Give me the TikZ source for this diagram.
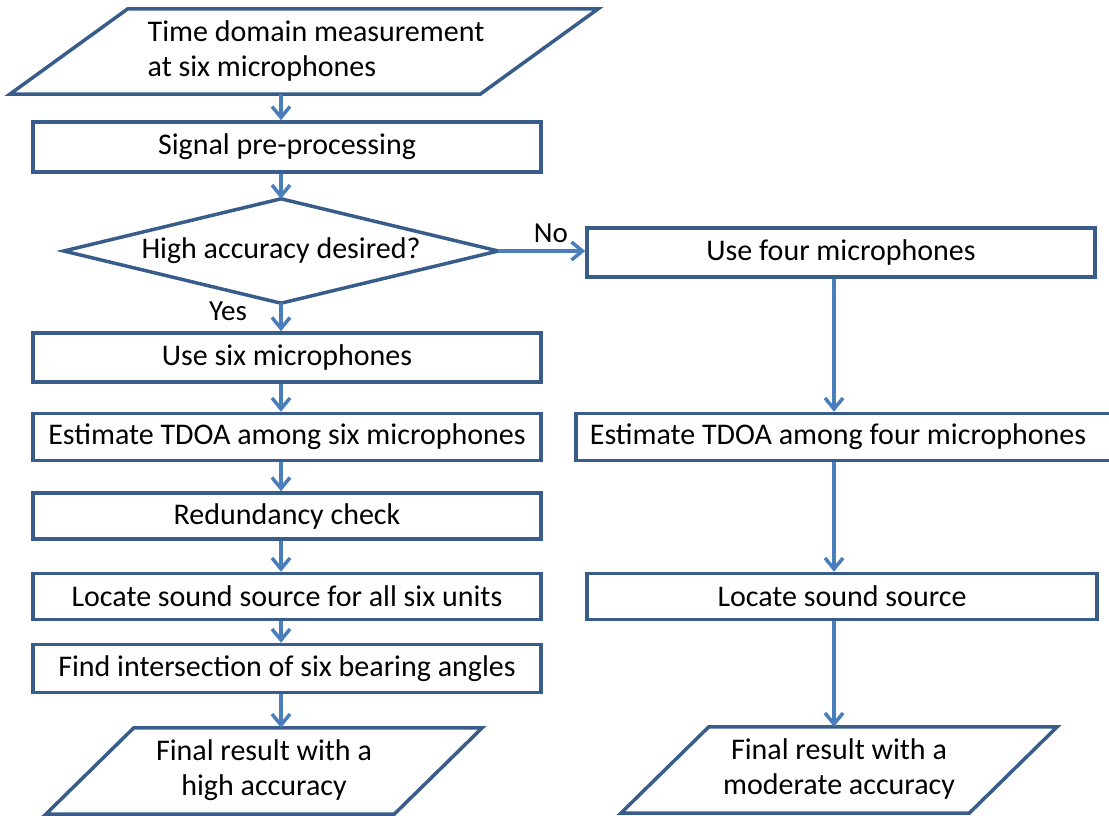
\documentclass[tikz,border=0pt]{standalone}
\usepackage{fontspec}
\setmainfont{Carlito}
\usetikzlibrary{arrows.meta,calc}
\definecolor{boxline}{RGB}{56,93,138}
\definecolor{flow}{RGB}{74,126,187}

\begin{document}
\begin{tikzpicture}[x=1pt,y=-1pt,
  every node/.style={font=\fontsize{30}{36}\selectfont, text=black, inner sep=0pt},
  procbox/.style={draw=boxline, line width=3.5pt, fill=white, minimum width=508pt},
  shapeline/.style={draw=boxline, line width=3.5pt, line join=miter},
  flowarrow/.style={draw=flow, line width=3.5pt,
    -{Straight Barb[length=11pt,width=18pt]}},
  lbl/.style={font=\fontsize{29}{34}\selectfont}]

\useasboundingbox (0,0) rectangle (1109,816);

% connector columns
\coordinate (lcol) at (281,0);
\coordinate (rcol) at (834,0);

% input: measurement
\node[minimum width=588pt, minimum height=85pt] (meas) at (304,51.5)
  {\hspace*{24pt}\begin{tabular}{@{}l@{}}Time domain measurement\\[-1pt]at six microphones\end{tabular}};
\draw[shapeline] ($(meas.north west)+(118,0)$) -- (meas.north east)
  -- ($(meas.south east)-(118,0)$) -- (meas.south west) -- cycle;

% left column
\node[procbox, minimum height=50pt] (sig) at (287,147) {Signal pre-processing};

\node[minimum width=434pt, minimum height=104pt] (dec) at (281,251) {High accuracy desired?};
\draw[shapeline] (dec.north) -- (dec.east) -- (dec.south) -- (dec.west) -- cycle;

\node[procbox, minimum height=49pt] (six) at (287,357.5) {Use six microphones};
\node[procbox, minimum height=47pt] (tdoa6) at (287,437) {Estimate TDOA among six microphones};
\node[procbox, minimum height=46pt] (red) at (287,516) {Redundancy check};
\node[procbox, minimum height=46pt] (loc6) at (287,596.5) {Locate sound source for all six units};
\node[procbox, minimum height=48pt] (find) at (287,668.5) {Find intersection of six bearing angles};

\node[minimum width=436pt, minimum height=86pt] (fin6) at (264,771)
  {\begin{tabular}{@{}c@{}}Final result with a\\[-1pt]high accuracy\end{tabular}};
\draw[shapeline] ($(fin6.north west)+(88,0)$) -- (fin6.north east)
  -- ($(fin6.south east)-(88,0)$) -- (fin6.south west) -- cycle;

% right column
\node[procbox, minimum height=49pt] (four) at (841,252.5) {Use four microphones};
\node[procbox, minimum width=536pt, minimum height=47pt] (tdoa4) at (844,437) {\hspace*{-12pt}Estimate TDOA among four microphones};
\node[procbox, minimum width=510pt, minimum height=46pt] (loc4) at (842,596.5) {Locate sound source};

\node[minimum width=436pt, minimum height=86pt] (fin4) at (839,770)
  {\begin{tabular}{@{}c@{}}Final result with a\\[-1pt]moderate accuracy\end{tabular}};
\draw[shapeline] ($(fin4.north west)+(88,0)$) -- (fin4.north east)
  -- ($(fin4.south east)-(88,0)$) -- (fin4.south west) -- cycle;

% connectors
\draw[flowarrow] (meas.south -| lcol) -- (sig.north -| lcol);
\draw[flowarrow] (sig.south -| lcol) -- (dec.north);
\draw[flowarrow] (dec.south) -- (six.north -| lcol);
\draw[flowarrow] (dec.east) -- (dec.east -| four.west);
\draw[flowarrow] (six.south -| lcol) -- (tdoa6.north -| lcol);
\draw[flowarrow] (tdoa6.south -| lcol) -- (red.north -| lcol);
\draw[flowarrow] (red.south -| lcol) -- (loc6.north -| lcol);
\draw[flowarrow] (loc6.south -| lcol) -- (find.north -| lcol);
\draw[flowarrow] (find.south -| lcol) -- (fin6.north -| lcol);

\draw[flowarrow] (four.south -| rcol) -- (tdoa4.north -| rcol);
\draw[flowarrow] (tdoa4.south -| rcol) -- (loc4.north -| rcol);
\draw[flowarrow] (loc4.south -| rcol) -- (fin4.north -| rcol);

% branch labels
\node[lbl] (yes) at (228,311) {Yes};
\node[lbl] (no) at (551,233) {No};

\end{tikzpicture}
\end{document}
